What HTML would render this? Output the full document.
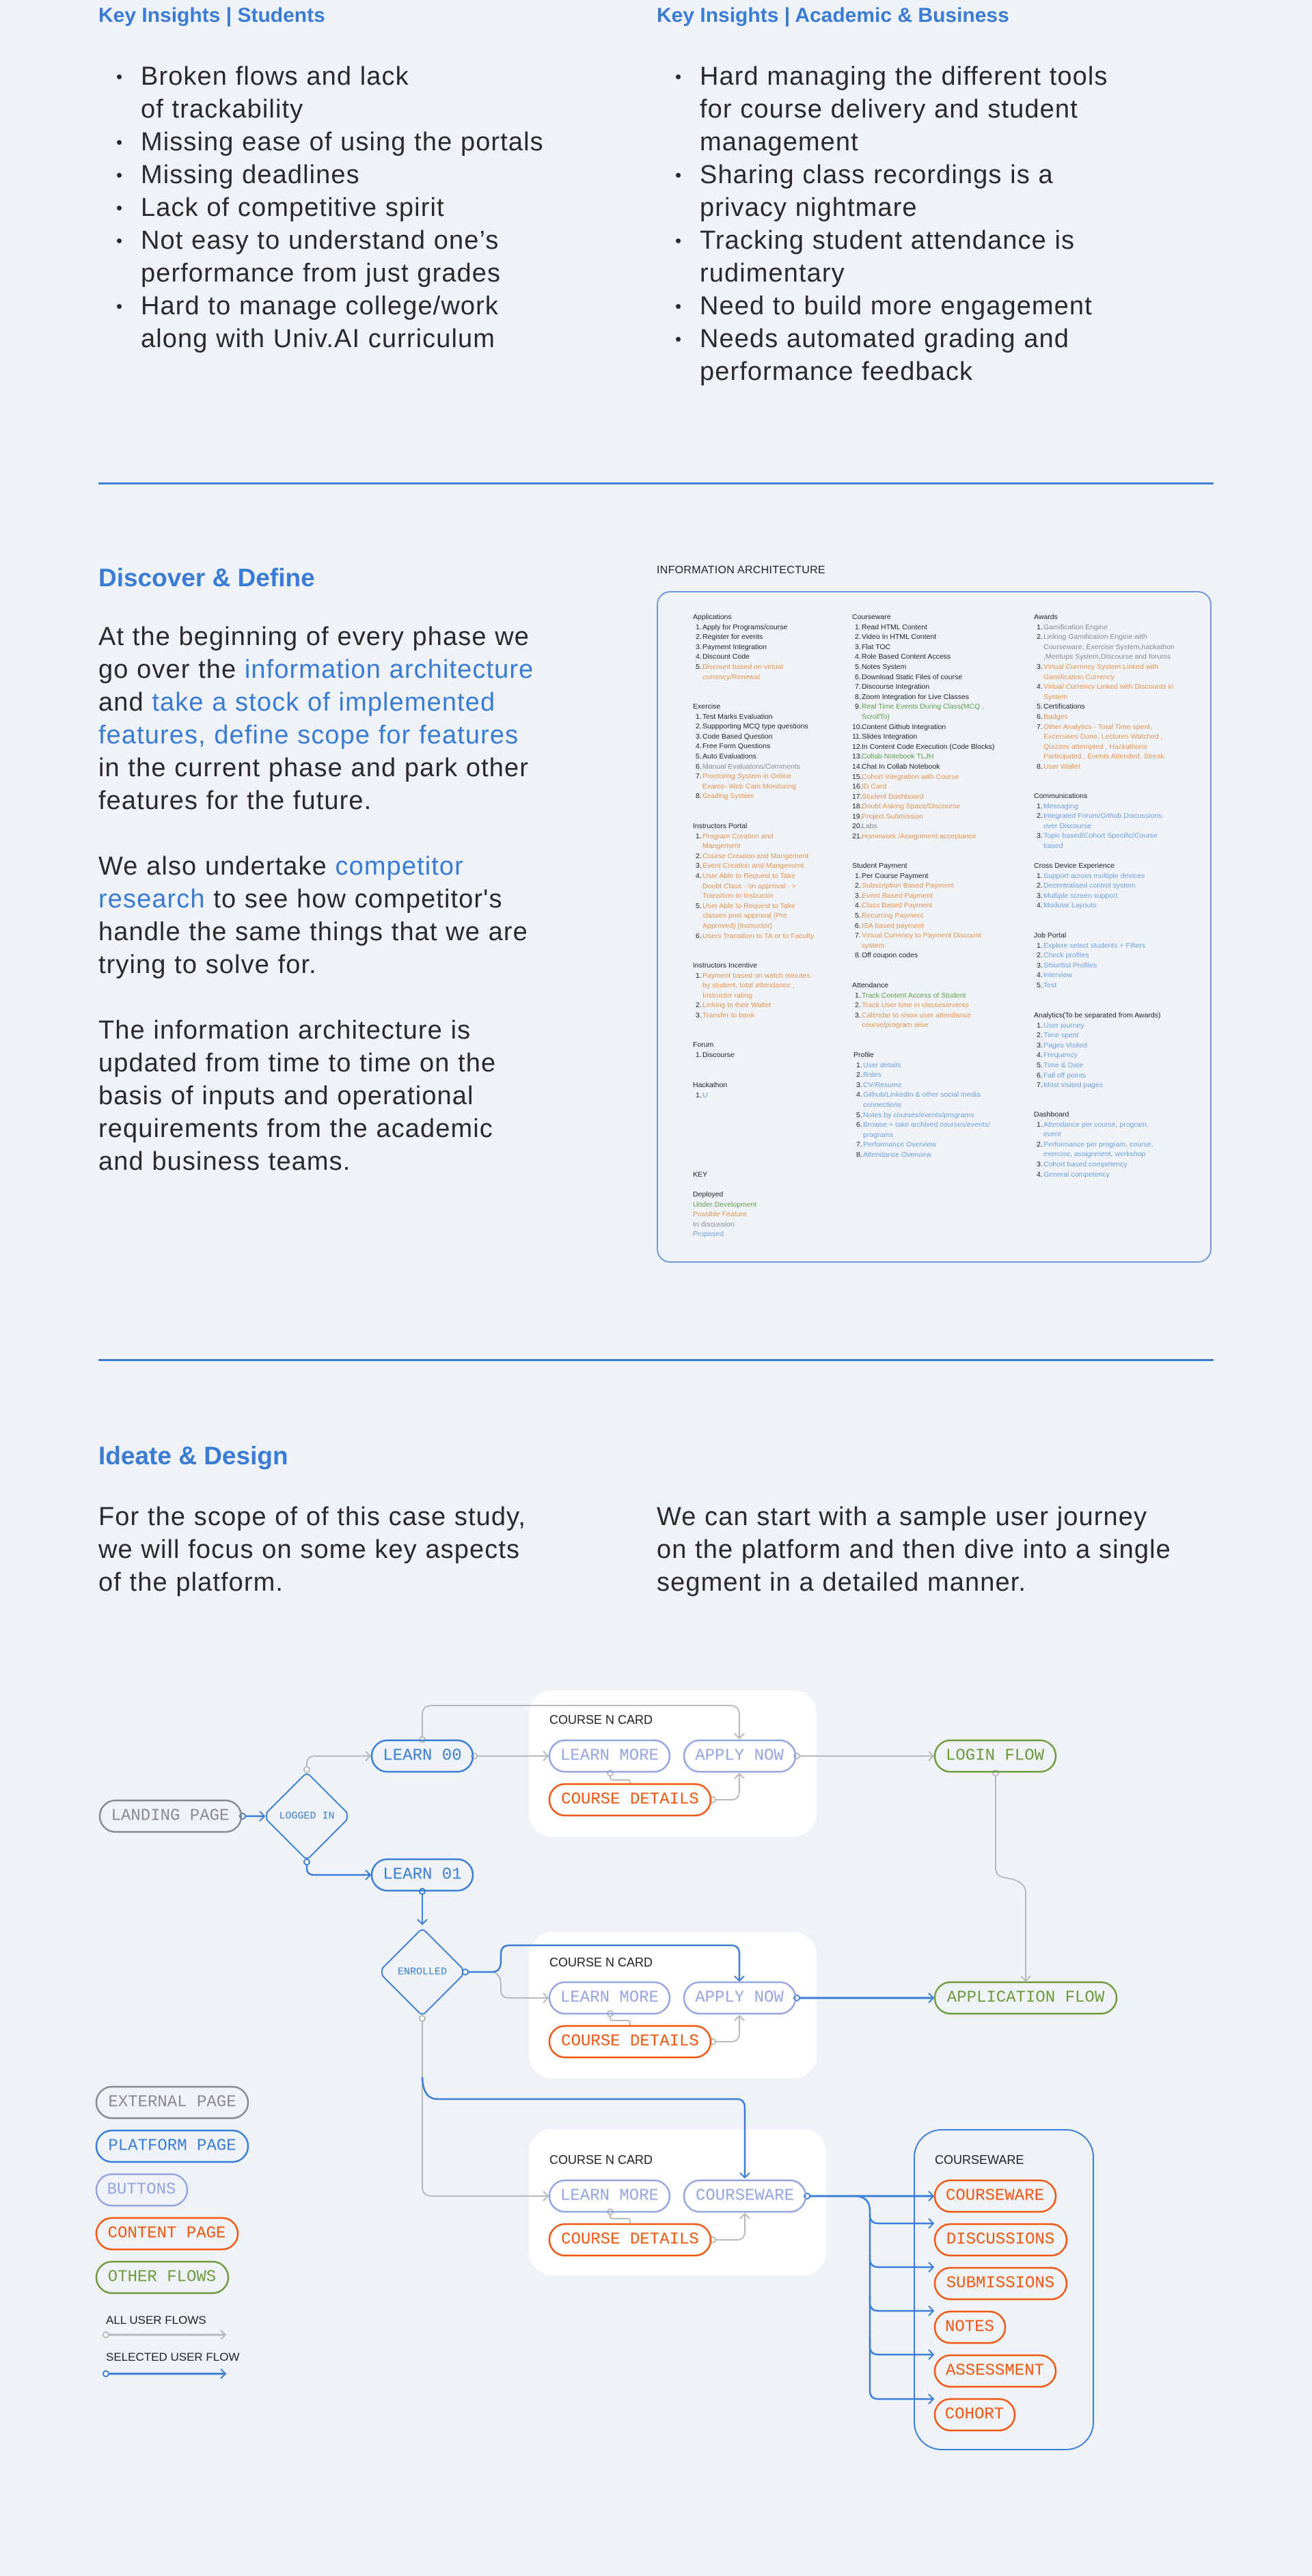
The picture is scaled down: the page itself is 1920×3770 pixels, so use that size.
<!DOCTYPE html>
<html><head><meta charset="utf-8">
<style>
*{margin:0;padding:0;box-sizing:border-box}
html,body{width:1920px;height:3770px;background:#eff3f8;overflow:hidden}
body{position:relative;font-family:"Liberation Sans",sans-serif;color:#2a2a2a}
.a{position:absolute;white-space:nowrap}
.h{font-size:30px;font-weight:bold;color:#3a7bd5;line-height:36px}
.h2{font-size:37px;font-weight:bold;color:#3a7bd5;line-height:40px}
.p{font-size:38px;line-height:48px;color:#2a2a2a;letter-spacing:1.1px}
.b{color:#3a7bd5}
.ul div{position:relative;padding-left:32px}
.ul div.s::before{content:"•";position:absolute;left:-4px;font-size:26px}
.rule{position:absolute;left:144px;width:1632px;height:3px;background:#3a7bd5}
.ia{position:absolute;left:961px;top:865px;width:812px;height:983px;border:2px solid #6f97dd;border-radius:20px}
.sec{position:absolute;font-size:10.5px;line-height:14.6px;white-space:nowrap;color:#222}
.sec p{position:relative;padding-left:14px}
.sec p i{font-style:normal;position:absolute;left:4px;color:#222}
.k{color:#222}.o{color:#e8944f}.g{color:#5e9f49}.y{color:#8a8a8a}.u{color:#6f9fe3}
</style></head><body>

<div class="a h" style="left:144px;top:5px">Key Insights | Students</div>
<div class="a h" style="left:961px;top:5px">Key Insights | Academic &amp; Business</div>

<div class="a p ul" style="left:174px;top:88px">
<div class="s">Broken flows and lack</div><div>of trackability</div>
<div class="s">Missing ease of using the portals</div>
<div class="s">Missing deadlines</div>
<div class="s">Lack of competitive spirit</div>
<div class="s">Not easy to understand one’s</div><div>performance from just grades</div>
<div class="s">Hard to manage college/work</div><div>along with Univ.AI curriculum</div>
</div>
<div class="a p ul" style="left:992px;top:88px">
<div class="s">Hard managing the different tools</div><div>for course delivery and student</div><div>management</div>
<div class="s">Sharing class recordings is a</div><div>privacy nightmare</div>
<div class="s">Tracking student attendance is</div><div>rudimentary</div>
<div class="s">Need to build more engagement</div>
<div class="s">Needs automated grading and</div><div>performance feedback</div>
</div>

<div class="rule" style="top:706px"></div>

<div class="a h2" style="left:144px;top:826px">Discover &amp; Define</div>
<div class="a p" style="left:144px;top:908px">
At the beginning of every phase we<br>
go over the <span class="b">information architecture</span><br>
and <span class="b">take a stock of implemented</span><br>
<span class="b">features, define scope for features</span><br>
in the current phase and park other<br>
features for the future.<br><br>
We also undertake <span class="b">competitor</span><br>
<span class="b">research</span> to see how competitor's<br>
handle the same things that we are<br>
trying to solve for.<br><br>
The information architecture is<br>
updated from time to time on the<br>
basis of inputs and operational<br>
requirements from the academic<br>
and business teams.
</div>

<div class="a" style="left:961px;top:826px;font-size:16px;color:#222;letter-spacing:.3px">INFORMATION ARCHITECTURE</div>
<div class="ia"></div>

<!-- col1 -->
<div class="sec" style="left:1014px;top:896px">Applications
<p><i>1.</i><span class="k">Apply for Programs/course</span></p>
<p><i>2.</i><span class="k">Register for events</span></p>
<p><i>3.</i><span class="k">Payment Integration</span></p>
<p><i>4.</i><span class="k">Discount Code</span></p>
<p class="o"><i>5.</i>Discount based on virtual<br>currency/Renewal</p>
</div>
<div class="sec" style="left:1014px;top:1027px">Exercise
<p><i>1.</i>Test Marks Evaluation</p>
<p><i>2.</i>Suppporting MCQ type questions</p>
<p><i>3.</i>Code Based Question</p>
<p><i>4.</i>Free Form Questions</p>
<p><i>5.</i>Auto Evaluations</p>
<p class="y"><i>6.</i>Manual Evaluatons/Comments</p>
<p class="o"><i>7.</i>Proctoring System in Online<br>Exams- Web Cam Monitoring</p>
<p class="o"><i>8.</i>Grading System</p>
</div>
<div class="sec" style="left:1014px;top:1202px">Instructors Portal
<p class="o"><i>1.</i>Program Creation and<br>Mangement</p>
<p class="o"><i>2.</i>Course Creation and Mangement</p>
<p class="o"><i>3.</i>Event Creation and Mangement</p>
<p class="o"><i>4.</i>User Able to Request to Take<br>Doubt Class - on approval - &gt;<br>Transition to Instructor</p>
<p class="o"><i>5.</i>User Able to Request to Take<br>classes post approval (Pre<br>Approved) (Instructor)</p>
<p class="o"><i>6.</i>Users Transition to TA or to Faculty</p>
</div>
<div class="sec" style="left:1014px;top:1406px">Instructors Incentive
<p class="o"><i>1.</i>Payment based on watch minutes<br>by student, total attendance ,<br>Instructor rating</p>
<p class="o"><i>2.</i>Linking to their Wallet</p>
<p class="o"><i>3.</i>Transfer to bank</p>
</div>
<div class="sec" style="left:1014px;top:1522px">Forum
<p><i>1.</i>Discourse</p>
</div>
<div class="sec" style="left:1014px;top:1581px">Hackathon
<p class="u"><i>1.</i>U</p>
</div>
<div class="sec" style="left:1014px;top:1712px">KEY</div>
<div class="sec" style="left:1014px;top:1741px">Deployed<br><span class="g">Under Development</span><br><span class="o">Possible Feature</span><br><span class="y">In discussion</span><br><span class="u">Proposed</span></div>

<!-- col2 -->
<div class="sec" style="left:1247px;top:896px">Courseware
<p><i>1.</i>Read HTML Content</p>
<p><i>2.</i>Video In HTML Content</p>
<p><i>3.</i>Flat TOC</p>
<p><i>4.</i>Role Based Content Access</p>
<p><i>5.</i>Notes System</p>
<p><i>6.</i>Download Static Files of course</p>
<p><i>7.</i>Discourse Integration</p>
<p><i>8.</i>Zoom Integration for Live Classes</p>
<p class="g"><i>9.</i>Real Time Events During Class(MCQ ,<br>ScrollTo)</p>
<p><i style="left:0">10.</i>Content Github Integration</p>
<p><i style="left:0">11.</i>Slides Integration</p>
<p><i style="left:0">12.</i>In Content Code Execution (Code Blocks)</p>
<p class="g"><i style="left:0">13.</i>Collab Notebook TLJH</p>
<p><i style="left:0">14.</i>Chat In Collab Notebook</p>
<p class="o"><i style="left:0">15.</i>Cohort Integration with Course</p>
<p class="o"><i style="left:0">16.</i>ID Card</p>
<p class="o"><i style="left:0">17.</i>Student Dashboard</p>
<p class="o"><i style="left:0">18.</i>Doubt Asking Space/Discourse</p>
<p class="o"><i style="left:0">19.</i>Project Submission</p>
<p class="y"><i style="left:0">20.</i>Labs</p>
<p class="o"><i style="left:0">21.</i>Homework /Assignment acceptance</p>
</div>
<div class="sec" style="left:1247px;top:1260px">Student Payment
<p><i>1.</i>Per Course Payment</p>
<p class="o"><i>2.</i>Subscription Based Payment</p>
<p class="o"><i>3.</i>Event Based Payment</p>
<p class="o"><i>4.</i>Class Based Payment</p>
<p class="o"><i>5.</i>Recurring Payment</p>
<p class="o"><i>6.</i>ISA based payment</p>
<p class="o"><i>7.</i>Virtual Currency to Payment Discount<br>system</p>
<p><i>8.</i>Off coupon codes</p>
</div>
<div class="sec" style="left:1247px;top:1435px">Attendance
<p class="g"><i>1.</i>Track Content Access of Student</p>
<p class="o"><i>2.</i>Track User time in classes/events</p>
<p class="o"><i>3.</i>Calendar to show user attendance<br>course/program wise</p>
</div>
<div class="sec" style="left:1249px;top:1537px">Profile
<p class="u"><i>1.</i>User details</p>
<p class="u"><i>2.</i>Roles</p>
<p class="u"><i>3.</i>CV/Resume</p>
<p class="u"><i>4.</i>Github/LinkedIn &amp; other social media<br>connections</p>
<p class="u"><i>5.</i>Notes by courses/events/programs</p>
<p class="u"><i>6.</i>Browse + take archived courses/events/<br>programs</p>
<p class="u"><i>7.</i>Performance Overview</p>
<p class="u"><i>8.</i>Attendance Overview</p>
</div>

<!-- col3 -->
<div class="sec" style="left:1513px;top:896px">Awards
<p class="y"><i>1.</i>Gamification Engine</p>
<p class="y"><i>2.</i>Linking Gamification Engine with<br>Courseware, Exercise System,hackathon<br>,Meetups System,Discourse and forums</p>
<p class="o"><i>3.</i>Virtual Currency System Linked with<br>Gamification Currency</p>
<p class="o"><i>4.</i>Virtual Currency Linked with Discounts in<br>System</p>
<p><i>5.</i>Certifications</p>
<p class="o"><i>6.</i>Badges</p>
<p class="o"><i>7.</i>Other Analytics - Total Time spent,<br>Excersises Done, Lectures Watched ,<br>Quizzes attempted , Hackathons<br>Participated , Events Attended, Streak</p>
<p class="o"><i>8.</i>User Wallet</p>
</div>
<div class="sec" style="left:1513px;top:1158px">Communications
<p class="u"><i>1.</i>Messaging</p>
<p class="u"><i>2.</i>Integrated Forum/Github Discussions<br>over Discourse</p>
<p class="u"><i>3.</i>Topic based/Cohort Specific/Course<br>based</p>
</div>
<div class="sec" style="left:1513px;top:1260px">Cross Device Experience
<p class="u"><i>1.</i>Support across multiple devices</p>
<p class="u"><i>2.</i>Decentralised control system</p>
<p class="u"><i>3.</i>Multiple screen support</p>
<p class="u"><i>4.</i>Modular Layouts</p>
</div>
<div class="sec" style="left:1513px;top:1362px">Job Portal
<p class="u"><i>1.</i>Explore select students + Filters</p>
<p class="u"><i>2.</i>Check profiles</p>
<p class="u"><i>3.</i>Shiortlist Profiles</p>
<p class="u"><i>4.</i>Interview</p>
<p class="u"><i>5.</i>Test</p>
</div>
<div class="sec" style="left:1513px;top:1479px">Analytics(To be separated from Awards)
<p class="u"><i>1.</i>User journey</p>
<p class="u"><i>2.</i>Time spent</p>
<p class="u"><i>3.</i>Pages Visited</p>
<p class="u"><i>4.</i>Frequency</p>
<p class="u"><i>5.</i>Time &amp; Date</p>
<p class="u"><i>6.</i>Fall off points</p>
<p class="u"><i>7.</i>Most visited pages</p>
</div>
<div class="sec" style="left:1513px;top:1624px">Dashboard
<p class="u"><i>1.</i>Attendance per course, program,<br>event</p>
<p class="u"><i>2.</i>Performance per program, course,<br>exercise, assignment, workshop</p>
<p class="u"><i>3.</i>Cohort based competency</p>
<p class="u"><i>4.</i>General competency</p>
</div>

<div class="rule" style="top:1989px"></div>

<div class="a h2" style="left:144px;top:2111px">Ideate &amp; Design</div>
<div class="a p" style="left:144px;top:2196px">For the scope of of this case study,<br>we will focus on some key aspects<br>of the platform.</div>
<div class="a p" style="left:961px;top:2196px">We can start with a sample user journey<br>on the platform and then dive into a single<br>segment in a detailed manner.</div>

<svg class="a" style="left:0;top:0" width="1920" height="3770" viewBox="0 0 1920 3770" font-family="Liberation Mono, monospace">
<defs>
<marker id="ag" markerUnits="userSpaceOnUse" markerWidth="12" markerHeight="16" refX="9" refY="8" orient="auto"><path d="M2,1 L9,8 L2,15" fill="none" stroke="#b9b9b9" stroke-width="2"/></marker>
<marker id="ab" markerUnits="userSpaceOnUse" markerWidth="12" markerHeight="16" refX="9" refY="8" orient="auto"><path d="M2,1 L9,8 L2,15" fill="none" stroke="#3b7dd8" stroke-width="2"/></marker>
</defs>
<rect x="774" y="2474" width="421" height="214" rx="34" fill="#fff"/>
<rect x="774" y="2828" width="421" height="214" rx="34" fill="#fff"/>
<rect x="774" y="3116" width="435" height="214" rx="34" fill="#fff"/>
<rect x="1338" y="3117" width="262" height="468" rx="40" fill="none" stroke="#3b7dd8" stroke-width="2"/>
<g font-family="Liberation Sans, sans-serif" font-size="18" fill="#222">
<text x="804" y="2523">COURSE N CARD</text>
<text x="804" y="2878">COURSE N CARD</text>
<text x="804" y="3167">COURSE N CARD</text>
<text x="1368" y="3167">COURSEWARE</text>
<text x="155" y="3401" font-size="17">ALL USER FLOWS</text>
<text x="155" y="3455" font-size="17">SELECTED USER FLOW</text>
</g>

<g fill="none" stroke="#b9b9b9" stroke-width="2">
<path d="M449,2586 V2582 Q449,2570 461,2570 H542" marker-end="url(#ag)"/>
<path d="M618,2542 V2510 Q618,2496 632,2496 H1068 Q1082,2496 1082,2510 V2544" marker-end="url(#ag)"/>
<path d="M698,2570 H802" marker-end="url(#ag)"/>
<path d="M893,2599 V2602 Q893,2605 897,2605 H918 Q922,2605 922,2609 V2611"/>
<path d="M1047,2634 H1070 Q1082,2634 1082,2620 V2596" marker-end="url(#ag)"/>
<path d="M1170,2570 H1366" marker-end="url(#ag)"/>
<path d="M1457,2599 V2733 Q1457,2746 1470,2748 Q1501,2752 1501,2770 V2899" marker-end="url(#ag)"/>
<path d="M722,2886 Q733,2890 733,2905 V2912 Q733,2924 745,2924 H802" marker-end="url(#ag)"/>
<path d="M893,2951 V2954 Q893,2957 897,2957 H918 Q922,2957 922,2961 V2965"/>
<path d="M1047,2988 H1070 Q1082,2988 1082,2975 V2950" marker-end="url(#ag)"/>
<path d="M618,2958 V3200 Q618,3214 632,3214 H802" marker-end="url(#ag)"/>
<path d="M893,3241 V3244 Q893,3247 897,3247 H918 Q922,3247 922,3251 V3255"/>
<path d="M1047,3278 H1078 Q1090,3278 1090,3265 V3240" marker-end="url(#ag)"/>
<path d="M159,3417 H330" marker-end="url(#ag)" stroke-width="3"/>
</g>
<g fill="#fff" stroke="#b9b9b9" stroke-width="2">
<circle cx="449" cy="2590" r="4"/><circle cx="618" cy="2546" r="4"/><circle cx="694" cy="2570" r="4"/>
<circle cx="893" cy="2595" r="4"/><circle cx="1043" cy="2634" r="4"/><circle cx="1166" cy="2570" r="4"/>
<circle cx="1457" cy="2595" r="4"/><circle cx="893" cy="2947" r="4"/><circle cx="1043" cy="2988" r="4"/>
<circle cx="618" cy="2954" r="4"/><circle cx="893" cy="3237" r="4"/><circle cx="1043" cy="3278" r="4"/>
<circle cx="155" cy="3417" r="4"/>
</g>

<g fill="none" stroke="#3b7dd8" stroke-width="2.5">
<path d="M359,2658 H387" marker-end="url(#ab)"/>
<path d="M449,2729 V2734 Q449,2744 460,2744 H542" marker-end="url(#ab)"/>
<path d="M618,2772 V2816" marker-end="url(#ab)" stroke-width="2"/>
<path d="M685,2886 H720 Q733,2886 733,2870 V2860 Q733,2847 746,2847 H1070 Q1082,2847 1082,2860 V2899" marker-end="url(#ab)"/>
<path d="M1170,2924 H1366" marker-end="url(#ab)" stroke-width="3"/>
<path d="M618,3040 Q619,3072 640,3072 H1078 Q1090,3072 1090,3085 V3187" marker-end="url(#ab)"/>
<path d="M1185,3214 H1366" marker-end="url(#ab)" stroke-width="3"/>
<path d="M1250,3214 Q1273,3214 1273,3236 V3242 Q1273,3254 1286,3254 H1366" marker-end="url(#ab)"/>
<path d="M1273,3240 V3306 Q1273,3318 1286,3318 H1366" marker-end="url(#ab)"/>
<path d="M1273,3300 V3370 Q1273,3382 1286,3382 H1366" marker-end="url(#ab)"/>
<path d="M1273,3360 V3434 Q1273,3446 1286,3446 H1366" marker-end="url(#ab)"/>
<path d="M1273,3420 V3499 Q1273,3511 1286,3511 H1366" marker-end="url(#ab)"/>
<path d="M159,3474 H330" marker-end="url(#ab)" stroke-width="3"/>
</g>
<g fill="#fff" stroke="#3b7dd8" stroke-width="2">
<circle cx="355" cy="2658" r="4"/><circle cx="449" cy="2725" r="4"/><circle cx="618" cy="2768" r="4"/>
<circle cx="681" cy="2886" r="4"/><circle cx="1166" cy="2924" r="4"/><circle cx="1181" cy="3214" r="4"/>
<circle cx="155" cy="3474" r="4"/>
</g>

<path d="M443,2600 Q449,2593 455,2600 L507,2652 Q509,2658 507,2664 L455,2716 Q449,2723 443,2716 L391,2664 Q389,2658 391,2652 Z" fill="none" stroke="#3b7dd8" stroke-width="2"/>
<text x="449" y="2658" font-size="15" fill="#3b7dd8" text-anchor="middle" dominant-baseline="central">LOGGED IN</text>
<path d="M612,2828 Q618,2821 624,2828 L676,2880 Q678,2886 676,2892 L624,2944 Q618,2951 612,2944 L560,2892 Q558,2886 560,2880 Z" fill="none" stroke="#3b7dd8" stroke-width="2"/>
<text x="618" y="2886" font-size="15" fill="#3b7dd8" text-anchor="middle" dominant-baseline="central">ENROLLED</text>

<g font-size="24" text-anchor="middle" dominant-baseline="central" stroke-width="2.5">
<rect x="146" y="2635" width="207" height="46" rx="23" fill="none" stroke="#8a8a8a"/><text x="249" y="2658" fill="#8a8a8a">LANDING PAGE</text>
<rect x="544" y="2547" width="148" height="46" rx="23" fill="none" stroke="#3b7dd8"/><text x="618" y="2570" fill="#3b7dd8">LEARN 00</text>
<rect x="544" y="2721" width="148" height="46" rx="23" fill="none" stroke="#3b7dd8"/><text x="618" y="2744" fill="#3b7dd8">LEARN 01</text>

<rect x="804" y="2547" width="176" height="46" rx="23" fill="none" stroke="#97a4e3"/><text x="892" y="2570" fill="#97a4e3">LEARN MORE</text>
<rect x="1001" y="2547" width="163" height="46" rx="23" fill="none" stroke="#97a4e3"/><text x="1082" y="2570" fill="#97a4e3">APPLY NOW</text>
<rect x="804" y="2611" width="236" height="46" rx="23" fill="none" stroke="#f2560f"/><text x="922" y="2634" fill="#f2560f">COURSE DETAILS</text>
<rect x="1368" y="2547" width="177" height="46" rx="23" fill="none" stroke="#6f9a3e"/><text x="1456" y="2570" fill="#6f9a3e">LOGIN FLOW</text>

<rect x="804" y="2901" width="176" height="46" rx="23" fill="none" stroke="#97a4e3"/><text x="892" y="2924" fill="#97a4e3">LEARN MORE</text>
<rect x="1001" y="2901" width="163" height="46" rx="23" fill="none" stroke="#97a4e3"/><text x="1082" y="2924" fill="#97a4e3">APPLY NOW</text>
<rect x="804" y="2965" width="236" height="46" rx="23" fill="none" stroke="#f2560f"/><text x="922" y="2988" fill="#f2560f">COURSE DETAILS</text>
<rect x="1368" y="2901" width="266" height="46" rx="23" fill="none" stroke="#6f9a3e"/><text x="1501" y="2924" fill="#6f9a3e">APPLICATION FLOW</text>

<rect x="804" y="3191" width="176" height="46" rx="23" fill="none" stroke="#97a4e3"/><text x="892" y="3214" fill="#97a4e3">LEARN MORE</text>
<rect x="1001" y="3191" width="178" height="46" rx="23" fill="none" stroke="#97a4e3"/><text x="1090" y="3214" fill="#97a4e3">COURSEWARE</text>
<rect x="804" y="3255" width="236" height="46" rx="23" fill="none" stroke="#f2560f"/><text x="922" y="3278" fill="#f2560f">COURSE DETAILS</text>

<rect x="1368" y="3191" width="177" height="46" rx="23" fill="none" stroke="#f2560f"/><text x="1456" y="3214" fill="#f2560f">COURSEWARE</text>
<rect x="1368" y="3255" width="193" height="46" rx="23" fill="none" stroke="#f2560f"/><text x="1464" y="3278" fill="#f2560f">DISCUSSIONS</text>
<rect x="1368" y="3319" width="193" height="46" rx="23" fill="none" stroke="#f2560f"/><text x="1464" y="3342" fill="#f2560f">SUBMISSIONS</text>
<rect x="1368" y="3383" width="103" height="46" rx="23" fill="none" stroke="#f2560f"/><text x="1419" y="3406" fill="#f2560f">NOTES</text>
<rect x="1368" y="3447" width="177" height="46" rx="23" fill="none" stroke="#f2560f"/><text x="1456" y="3470" fill="#f2560f">ASSESSMENT</text>
<rect x="1368" y="3511" width="117" height="46" rx="23" fill="none" stroke="#f2560f"/><text x="1426" y="3534" fill="#f2560f">COHORT</text>

<rect x="141" y="3054" width="222" height="46" rx="23" fill="none" stroke="#8a8a8a"/><text x="252" y="3077" fill="#8a8a8a">EXTERNAL PAGE</text>
<rect x="141" y="3118" width="222" height="46" rx="23" fill="none" stroke="#3b7dd8"/><text x="252" y="3141" fill="#3b7dd8">PLATFORM PAGE</text>
<rect x="141" y="3182" width="133" height="46" rx="23" fill="none" stroke="#97a4e3"/><text x="207" y="3205" fill="#97a4e3">BUTTONS</text>
<rect x="141" y="3246" width="207" height="46" rx="23" fill="none" stroke="#f2560f"/><text x="244" y="3269" fill="#f2560f">CONTENT PAGE</text>
<rect x="141" y="3310" width="193" height="46" rx="23" fill="none" stroke="#6f9a3e"/><text x="237" y="3333" fill="#6f9a3e">OTHER FLOWS</text>
</g>
</svg>
</body></html>
